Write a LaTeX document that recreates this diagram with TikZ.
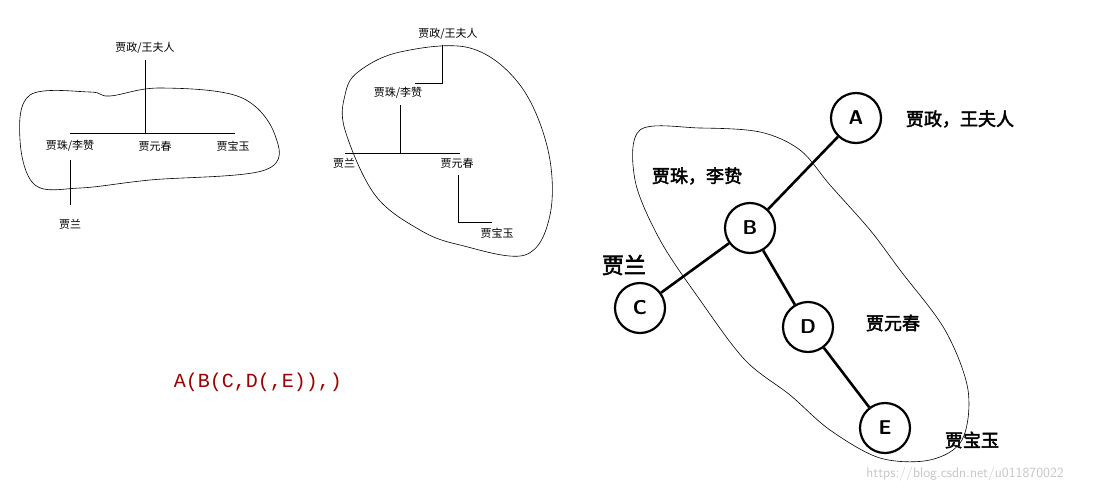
\documentclass[tikz,border=0pt]{standalone}
\usepackage{fontspec}
\setmainfont{Liberation Serif}
\setmonofont{Liberation Mono}
\newfontfamily\cjk[AutoFakeBold=2.5]{Noto Sans CJK SC}
\begin{document}
\begin{tikzpicture}[x=1pt,y=-1pt,
  sm/.style={font=\cjk\fontsize{11}{11}\selectfont,inner sep=1pt},
  bl/.style={font=\cjk\bfseries\fontsize{18}{18}\selectfont,inner sep=1pt},
  circ/.style={circle,draw,line width=2.2pt,minimum size=50pt,font=\sffamily\bfseries\fontsize{20}{20}\selectfont},
  edge/.style={line width=2.6pt},
  thin/.style={line width=0.6pt}]
\useasboundingbox (0,0) rectangle (1093,493);
% left tree
\node[sm] (l1) at (145,48) {贾政/王夫人};
\node[sm] (l2) at (70,146) {贾珠/李赞};
\node[sm] (l3) at (155,146) {贾元春};
\node[sm] (l4) at (233,146) {贾宝玉};
\node[sm] (l5) at (70,224) {贾兰};
\coordinate (lh1) at (70,133); \coordinate (lh2) at (235,133);
\draw[thin] (145,60) -- (145,133);
\draw[thin] (lh1) -- (lh2);
\draw[thin] (70,160) -- (70,205);
\draw[thin] plot[smooth cycle,tension=0.6] coordinates {(30,95) (90,92) (110,96) (160,88) (240,97) (275,135) (265,170) (150,180) (80,188) (35,185) (20,140)};
% middle tree
\node[sm] (m1) at (448,34) {贾政/王夫人};
\node[sm] (m2) at (398,93) {贾珠/李赞};
\node[sm] (m3) at (344,163) {贾兰};
\node[sm] (m4) at (457,163) {贾元春};
\node[sm] (m5) at (497,233) {贾宝玉};
\coordinate (mc1) at (442,83); \coordinate (mc2) at (415,83);
\draw[thin] (442,45) -- (mc1) -- (mc2);
\draw[thin] (400,105) -- (400,153);
\draw[thin] (345,153) -- (460,153);
\draw[thin] (458,175) -- (458,222) -- (492,222);
\draw[thin] plot[smooth cycle,tension=0.6] coordinates {(358,72) (400,52) (470,48) (520,85) (548,150) (550,215) (525,255) (460,245) (420,230) (375,195) (345,130) (345,95)};
% red text
\node[font=\ttfamily\fontsize{20}{20}\selectfont,text=red!60!black] (t) at (258,382) {A(B(C,D(,E)),)};
% right tree
\draw[thin] plot[smooth cycle,tension=0.55] coordinates {(640,130) (700,128) (760,132) (800,150) (830,185) (870,230) (900,270) (945,330) (968,390) (962,440) (930,460) (880,458) (830,430) (790,395) (745,360) (700,300) (660,240) (635,180)};
\node[circ] (A) at (856,118) {A};
\node[circ] (B) at (750,228) {B};
\node[circ] (C) at (640,308) {C};
\node[circ] (D) at (808,327) {D};
\node[circ] (E) at (885,428) {E};
\draw[edge] (A) -- (B);
\draw[edge] (B) -- (C);
\draw[edge] (B) -- (D);
\draw[edge] (D) -- (E);
\node[bl] (la) at (960,119) {贾政，王夫人};
\node[bl] (lb) at (697,176) {贾珠，李贽};
\node[bl,font=\cjk\bfseries\fontsize{22}{22}\selectfont] (lc) at (624,265) {贾兰};
\node[bl] (ld) at (893,323) {贾元春};
\node[bl] (le) at (972,440) {贾宝玉};
\node[font=\sffamily\fontsize{14}{14}\selectfont,text=gray!45] (w) at (965,474) {https://blog.csdn.net/u011870022};
\end{tikzpicture}
\end{document}
